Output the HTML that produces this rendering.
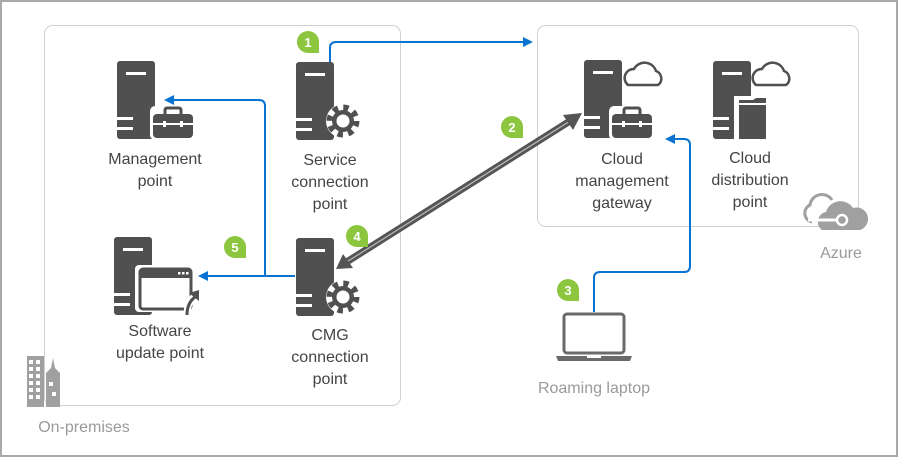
<!DOCTYPE html>
<html><head><meta charset="utf-8"><style>
html,body{margin:0;padding:0;background:#fff}
svg{display:block}
text{font-family:"Segoe UI","Liberation Sans",sans-serif;font-size:16px;fill:#444;text-anchor:middle}
.g{fill:#9a9a9a}
.b{font-family:"Liberation Sans",sans-serif;font-weight:bold;font-size:13px;fill:#fff}
</style></head><body>
<svg width="899" height="458" viewBox="0 0 899 458" xmlns="http://www.w3.org/2000/svg">
<defs>
<g id="srv">
<rect x="0" y="0" width="38" height="78" rx="3" fill="#505050"/>
<rect x="9" y="11" width="20" height="3" fill="#fff"/>
<rect x="0" y="56" width="16" height="3" fill="#fff"/>
<rect x="0" y="66" width="16" height="3" fill="#fff"/>
</g>
<g id="gear">
<circle r="17" fill="#fff"/>
<circle r="12.5" fill="none" stroke="#505050" stroke-width="8" stroke-dasharray="4.9 4.9"/>
<circle r="11" fill="#505050"/>
<circle r="6.5" fill="#fff"/>
</g>
<g id="brief">
<rect x="-3" y="-3" width="46" height="34" rx="5" fill="#fff"/>
<rect x="12" y="-1" width="16" height="8" rx="2" fill="none" stroke="#505050" stroke-width="3"/>
<rect x="0" y="5" width="40" height="24" rx="4" fill="#505050"/>
<rect x="0" y="14" width="40" height="2" fill="#fff"/>
<rect x="10" y="12" width="3" height="6" fill="#fff"/>
<rect x="27" y="12" width="3" height="6" fill="#fff"/>
</g>
<g id="cloud">
<path d="M2 24 A9 9 0 0 1 8 8 A12 12 0 0 1 30 10 A8 8 0 0 1 32 24 Z" fill="#fff" stroke="#505050" stroke-width="2.5"/>
</g>
<g id="badge">
<circle r="11" fill="#8cc63f"/>
<rect x="0" y="0" width="11" height="11" fill="#8cc63f"/>
</g>
<marker id="ab" markerWidth="10" markerHeight="10" refX="8" refY="5" orient="auto" markerUnits="userSpaceOnUse"><path d="M0 0 L10 5 L0 10 Z" fill="#0a72d0"/></marker>
</defs>
<rect x="1" y="1" width="896" height="455" fill="#fff" stroke="#a9a9a9" stroke-width="2"/>
<rect x="44.5" y="25.5" width="356" height="380" rx="8" fill="none" stroke="#d0d0d0"/>
<rect x="537.5" y="25.5" width="321" height="201" rx="8" fill="none" stroke="#d0d0d0"/>

<g fill="none" stroke="#0a72d0" stroke-width="2">
<path d="M330 62 V48 Q330 42 336 42 H531" marker-end="url(#ab)"/>
<path d="M265 275 V106 Q265 100 259 100 H166" marker-end="url(#ab)"/>
<path d="M295 276 H200" marker-end="url(#ab)"/>
<path d="M594 312 V278 Q594 272 600 272 H684 Q690 272 690 266 V145 Q690 139 684 139 H667" marker-end="url(#ab)"/>
</g>

<use href="#srv" x="117" y="61"/>
<use href="#brief" x="153" y="109"/>
<text x="155" y="164">Management</text><text x="155" y="186">point</text>

<use href="#srv" x="296" y="62"/>
<use href="#gear" x="343" y="121"/>
<text x="330" y="165">Service</text><text x="330" y="187">connection</text><text x="330" y="209">point</text>

<use href="#srv" x="114" y="237"/>
<rect x="135" y="265" width="57" height="47" rx="4" fill="#fff"/>
<rect x="140" y="269" width="51" height="40" rx="3" fill="#fff" stroke="#505050" stroke-width="3"/>
<rect x="140" y="269" width="51" height="9" fill="#505050"/>
<rect x="178" y="272" width="2.5" height="2.5" fill="#fff"/><rect x="182" y="272" width="2.5" height="2.5" fill="#fff"/><rect x="186" y="272" width="2.5" height="2.5" fill="#fff"/>
<path d="M187 315 Q187 302 195 296" fill="none" stroke="#fff" stroke-width="7"/>
<path d="M187 315 Q187 303 195 297" fill="none" stroke="#505050" stroke-width="3"/>
<path d="M189 293 L199 290 L199 301 Z" fill="#505050"/>
<text x="160" y="336">Software</text><text x="160" y="358">update point</text>

<use href="#srv" x="296" y="238"/>
<use href="#gear" x="343" y="297"/>
<text x="330" y="340">CMG</text><text x="330" y="362">connection</text><text x="330" y="384">point</text>

<use href="#srv" x="584" y="60"/>
<use href="#cloud" x="626" y="61"/>
<use href="#brief" x="612" y="109"/>
<text x="622" y="164">Cloud</text><text x="622" y="186">management</text><text x="622" y="208">gateway</text>

<use href="#srv" x="713" y="61"/>
<use href="#cloud" x="754" y="61"/>
<rect x="734" y="96" width="34" height="44" fill="#fff"/>
<path d="M739 100 H753 L756 98 H766 V139 H739 Z" fill="#505050"/>
<path d="M737 104 H768" stroke="#fff" stroke-width="2"/>
<text x="750" y="163">Cloud</text><text x="750" y="185">distribution</text><text x="750" y="207">point</text>

<g>
<line x1="345" y1="263" x2="570" y2="121" stroke="#555" stroke-width="7"/>
<line x1="345" y1="263" x2="570" y2="121" stroke="#bbb" stroke-width="1.2"/>
<path d="M582 113 L563 115 L573 130 Z" fill="#555"/>
<path d="M336 269 L343 254 L353 268 Z" fill="#555"/>
</g>

<rect x="564" y="314" width="60" height="39" rx="3" fill="none" stroke="#6a6a6a" stroke-width="3"/>
<path d="M556 356 H632 L630 361 H558 Z" fill="#6a6a6a"/>
<rect x="587" y="356" width="14" height="2" fill="#fff"/>
<text x="594" y="393" class="g">Roaming laptop</text>

<path d="M812 222 A9 9 0 0 1 810 205 A12 12 0 0 1 832 200" fill="none" stroke="#a0a0a0" stroke-width="3"/>
<path d="M822 230 A10 10 0 0 1 826 212 A15 15 0 0 1 853 208 A11 11 0 0 1 860 230 Z" fill="#a0a0a0"/>
<path d="M808 220 H838" stroke="#fff" stroke-width="3"/>
<circle cx="842" cy="220" r="5" fill="#a0a0a0" stroke="#fff" stroke-width="2.5"/>
<text x="841" y="258" class="g">Azure</text>

<rect x="27" y="356" width="17" height="51" fill="#a0a0a0"/>
<path d="M46 407 V373 L51 368 L53 358 L55 368 L60 373 V407 Z" fill="#a0a0a0"/>
<g fill="#fff">
<rect x="29" y="360" width="4" height="4"/><rect x="36" y="360" width="4" height="4"/>
<rect x="29" y="367" width="4" height="4"/><rect x="36" y="367" width="4" height="4"/>
<rect x="29" y="374" width="4" height="4"/><rect x="36" y="374" width="4" height="4"/>
<rect x="29" y="381" width="4" height="4"/><rect x="36" y="381" width="4" height="4"/>
<rect x="29" y="388" width="4" height="4"/><rect x="36" y="388" width="4" height="4"/>
<rect x="29" y="395" width="4" height="4"/><rect x="36" y="395" width="4" height="4"/>
<rect x="49" y="382" width="4" height="4"/><rect x="52" y="392" width="4" height="4"/>
</g>
<text x="84" y="432" class="g">On-premises</text>

<use href="#badge" x="308" y="42"/><text class="b" x="308" y="47">1</text>
<use href="#badge" x="512" y="127"/><text class="b" x="512" y="132">2</text>
<use href="#badge" x="568" y="290"/><text class="b" x="568" y="295">3</text>
<use href="#badge" x="357" y="236"/><text class="b" x="357" y="241">4</text>
<use href="#badge" x="235" y="247"/><text class="b" x="235" y="252">5</text>
</svg>
</body></html>
